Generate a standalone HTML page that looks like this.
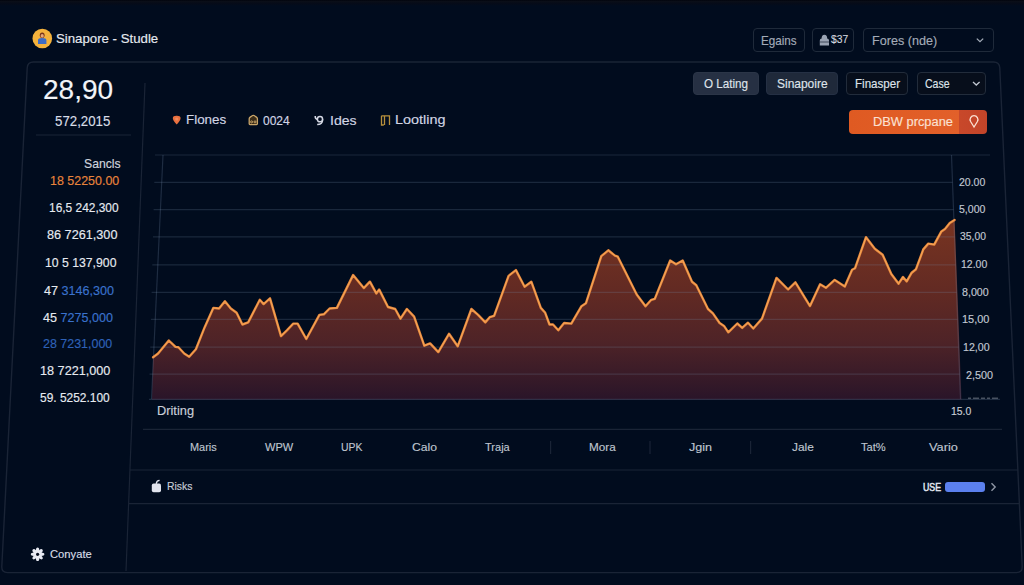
<!DOCTYPE html>
<html><head><meta charset="utf-8"><style>
html,body{margin:0;padding:0;}
body{width:1024px;height:585px;overflow:hidden;background:#010c1e;position:relative;font-family:"Liberation Sans",sans-serif;}
.t{position:absolute;white-space:nowrap;line-height:1;-webkit-text-stroke:0.15px currentColor;}
</style></head><body>
<svg width="1024" height="585" viewBox="0 0 1024 585" style="position:absolute;left:0;top:0"><path d="M33.5,62 L993.5,62 Q999.5,62 999.8,68 L1022.2,566.5 Q1022.5,572.6 1016.5,572.6 L7.5,572.6 Q1.5,572.6 1.8,566.5 L27.2,68 Q27.5,62 33.5,62 Z" fill="#010c1e" stroke="#1a2436" stroke-width="1.4"/><line x1="145" y1="83" x2="126" y2="571" stroke="#1a2436" stroke-width="1.2"/><line x1="36" y1="135" x2="131" y2="135" stroke="#1a2436" stroke-width="1.2"/><defs><linearGradient id="fg" gradientUnits="userSpaceOnUse" x1="0" y1="220" x2="0" y2="399"><stop offset="0" stop-color="#783421"/><stop offset="0.4" stop-color="#622a23"/><stop offset="0.68" stop-color="#4e2327"/><stop offset="1" stop-color="#2a1529"/></linearGradient></defs><path d="M153.1,357.3 L158.1,353.5 L168.8,340.5 L175.5,346.9 L178.4,347.2 L184.2,353.5 L189.2,356.7 L195.9,349.2 L204.6,327.4 L213.3,307.9 L219.1,308.5 L224.9,301.2 L230.8,308.5 L236.6,312.8 L242.4,324.5 L248.2,322.4 L259.8,299.8 L263.6,304.1 L270,298.3 L281,336.1 L286.9,330.3 L293.3,323.6 L297.6,323.6 L306.3,339 L319.4,314.9 L323.8,314.3 L329.6,308.5 L336.9,307.9 L353.1,275.1 L363.8,288.1 L369.9,281.7 L376.3,293.4 L379.2,289.6 L388,307 L395.2,309 L400.5,318.7 L406.9,309 L414.1,316.6 L424.3,345.7 L430.1,343.4 L438.3,352.1 L449,333.8 L457.7,346.3 L471.4,309 L478.1,314.9 L485.3,322.4 L489.7,317.2 L494.1,315.8 L508.6,275.9 L515.9,270.1 L524.6,286.7 L531.3,281.7 L540.8,307.9 L545.2,312.8 L549.5,324.5 L553,324.5 L558.3,330.3 L564.1,323 L571.3,323.6 L581.5,306.2 L585.9,303.3 L601.3,256.2 L608.3,250.3 L614.9,255.6 L617.8,256.7 L636.7,294.5 L645.5,306.2 L651.3,299.8 L654.8,298.9 L670.2,260.5 L676,264.3 L682.7,260.5 L692,281.7 L696.3,285.2 L708,309 L712.9,313.4 L719.6,323 L724,325.9 L728.3,332.3 L737.3,323.5 L742.2,327.9 L748,322.7 L753.3,328.5 L762,318.6 L776.5,277.9 L788.1,289.5 L795.4,282.3 L810,306.1 L820.1,284.3 L825.9,287.8 L834.7,279.9 L844.8,286.6 L852.1,269.8 L855,268.3 L866,237.2 L874.8,248.8 L882.6,254.7 L891.3,274.1 L898.6,283.7 L903,277 L906.7,281.4 L911.7,272.7 L916,269.2 L923.3,249.4 L928.3,243.6 L934.2,244.6 L941.4,231.4 L945,229 L949.8,223 L954.6,219.9 L961.5,399.4 L152,399.4 Z" fill="url(#fg)"/><line x1="155.0" y1="155" x2="990.0" y2="155" stroke="rgba(120,140,170,0.22)" stroke-width="1.2"/><line x1="154.3" y1="182.4" x2="952.5" y2="182.4" stroke="rgba(120,140,170,0.22)" stroke-width="1.2"/><line x1="153.6" y1="209.7" x2="953.5" y2="209.7" stroke="rgba(120,140,170,0.22)" stroke-width="1.2"/><line x1="153.0" y1="236.9" x2="954.5" y2="236.9" stroke="rgba(120,140,170,0.22)" stroke-width="1.2"/><line x1="152.3" y1="264.8" x2="955.6" y2="264.8" stroke="rgba(120,140,170,0.22)" stroke-width="1.2"/><line x1="151.6" y1="292.3" x2="956.6" y2="292.3" stroke="rgba(120,140,170,0.22)" stroke-width="1.2"/><line x1="150.9" y1="319.3" x2="957.6" y2="319.3" stroke="rgba(120,140,170,0.22)" stroke-width="1.2"/><line x1="150.2" y1="347.1" x2="958.6" y2="347.1" stroke="rgba(120,140,170,0.22)" stroke-width="1.2"/><line x1="149.5" y1="374.2" x2="959.6" y2="374.2" stroke="rgba(120,140,170,0.22)" stroke-width="1.2"/><path d="M968,398.2 L1000,398.2" stroke="rgba(200,205,215,0.35)" stroke-width="1.4" stroke-dasharray="3,2,6,2,4,2"/><line x1="149" y1="399.4" x2="1000" y2="399.4" stroke="rgba(120,140,170,0.25)" stroke-width="1.2"/><line x1="163" y1="155" x2="151.5" y2="399" stroke="rgba(120,140,170,0.25)" stroke-width="1.2"/><line x1="951.5" y1="155" x2="960.5" y2="399" stroke="rgba(120,140,170,0.25)" stroke-width="1.2"/><path d="M153.1,357.3 L158.1,353.5 L168.8,340.5 L175.5,346.9 L178.4,347.2 L184.2,353.5 L189.2,356.7 L195.9,349.2 L204.6,327.4 L213.3,307.9 L219.1,308.5 L224.9,301.2 L230.8,308.5 L236.6,312.8 L242.4,324.5 L248.2,322.4 L259.8,299.8 L263.6,304.1 L270,298.3 L281,336.1 L286.9,330.3 L293.3,323.6 L297.6,323.6 L306.3,339 L319.4,314.9 L323.8,314.3 L329.6,308.5 L336.9,307.9 L353.1,275.1 L363.8,288.1 L369.9,281.7 L376.3,293.4 L379.2,289.6 L388,307 L395.2,309 L400.5,318.7 L406.9,309 L414.1,316.6 L424.3,345.7 L430.1,343.4 L438.3,352.1 L449,333.8 L457.7,346.3 L471.4,309 L478.1,314.9 L485.3,322.4 L489.7,317.2 L494.1,315.8 L508.6,275.9 L515.9,270.1 L524.6,286.7 L531.3,281.7 L540.8,307.9 L545.2,312.8 L549.5,324.5 L553,324.5 L558.3,330.3 L564.1,323 L571.3,323.6 L581.5,306.2 L585.9,303.3 L601.3,256.2 L608.3,250.3 L614.9,255.6 L617.8,256.7 L636.7,294.5 L645.5,306.2 L651.3,299.8 L654.8,298.9 L670.2,260.5 L676,264.3 L682.7,260.5 L692,281.7 L696.3,285.2 L708,309 L712.9,313.4 L719.6,323 L724,325.9 L728.3,332.3 L737.3,323.5 L742.2,327.9 L748,322.7 L753.3,328.5 L762,318.6 L776.5,277.9 L788.1,289.5 L795.4,282.3 L810,306.1 L820.1,284.3 L825.9,287.8 L834.7,279.9 L844.8,286.6 L852.1,269.8 L855,268.3 L866,237.2 L874.8,248.8 L882.6,254.7 L891.3,274.1 L898.6,283.7 L903,277 L906.7,281.4 L911.7,272.7 L916,269.2 L923.3,249.4 L928.3,243.6 L934.2,244.6 L941.4,231.4 L945,229 L949.8,223 L954.6,219.9" fill="none" stroke="#e7863c" stroke-width="2.4" stroke-linejoin="round" stroke-linecap="round"/><path d="M153.1,357.3 L158.1,353.5 L168.8,340.5 L175.5,346.9 L178.4,347.2 L184.2,353.5 L189.2,356.7 L195.9,349.2 L204.6,327.4 L213.3,307.9 L219.1,308.5 L224.9,301.2 L230.8,308.5 L236.6,312.8 L242.4,324.5 L248.2,322.4 L259.8,299.8 L263.6,304.1 L270,298.3 L281,336.1 L286.9,330.3 L293.3,323.6 L297.6,323.6 L306.3,339 L319.4,314.9 L323.8,314.3 L329.6,308.5 L336.9,307.9 L353.1,275.1 L363.8,288.1 L369.9,281.7 L376.3,293.4 L379.2,289.6 L388,307 L395.2,309 L400.5,318.7 L406.9,309 L414.1,316.6 L424.3,345.7 L430.1,343.4 L438.3,352.1 L449,333.8 L457.7,346.3 L471.4,309 L478.1,314.9 L485.3,322.4 L489.7,317.2 L494.1,315.8 L508.6,275.9 L515.9,270.1 L524.6,286.7 L531.3,281.7 L540.8,307.9 L545.2,312.8 L549.5,324.5 L553,324.5 L558.3,330.3 L564.1,323 L571.3,323.6 L581.5,306.2 L585.9,303.3 L601.3,256.2 L608.3,250.3 L614.9,255.6 L617.8,256.7 L636.7,294.5 L645.5,306.2 L651.3,299.8 L654.8,298.9 L670.2,260.5 L676,264.3 L682.7,260.5 L692,281.7 L696.3,285.2 L708,309 L712.9,313.4 L719.6,323 L724,325.9 L728.3,332.3 L737.3,323.5 L742.2,327.9 L748,322.7 L753.3,328.5 L762,318.6 L776.5,277.9 L788.1,289.5 L795.4,282.3 L810,306.1 L820.1,284.3 L825.9,287.8 L834.7,279.9 L844.8,286.6 L852.1,269.8 L855,268.3 L866,237.2 L874.8,248.8 L882.6,254.7 L891.3,274.1 L898.6,283.7 L903,277 L906.7,281.4 L911.7,272.7 L916,269.2 L923.3,249.4 L928.3,243.6 L934.2,244.6 L941.4,231.4 L945,229 L949.8,223 L954.6,219.9" fill="none" stroke="#f5aa5c" stroke-width="0.9" stroke-linejoin="round" stroke-linecap="round"/><line x1="143" y1="429.3" x2="1002" y2="429.3" stroke="#1a2436" stroke-width="1.2"/><line x1="130" y1="470" x2="1018" y2="470" stroke="#1a2436" stroke-width="1.2"/><line x1="128.7" y1="503.6" x2="1020" y2="503.6" stroke="#1a2436" stroke-width="1.2"/><line x1="550.6" y1="441" x2="550.6" y2="454" stroke="#1a2436" stroke-width="1.2"/><line x1="650" y1="441" x2="650" y2="454" stroke="#1a2436" stroke-width="1.2"/><line x1="750.6" y1="441" x2="750.6" y2="454" stroke="#1a2436" stroke-width="1.2"/></svg>
<div style="position:absolute;left:0;top:0;width:1024px;height:6px;background:linear-gradient(180deg,#02040d 0%,#0a0e18 25%,#060b18 55%,rgba(1,12,30,0) 100%)"></div><div style="position:absolute;left:752.5px;top:27.5px;width:52.5px;height:24.9px;background:transparent;border:1.2px solid #1f2a3a;border-radius:4px;box-sizing:border-box"></div><div style="position:absolute;left:812.2px;top:27.5px;width:41.799999999999955px;height:24.9px;background:transparent;border:1.2px solid #1f2a3a;border-radius:4px;box-sizing:border-box"></div><div style="position:absolute;left:862.5px;top:27.5px;width:131.5px;height:24.9px;background:transparent;border:1.2px solid #1f2a3a;border-radius:4px;box-sizing:border-box"></div><div style="position:absolute;left:693.4px;top:72.4px;width:65.20000000000005px;height:22.39999999999999px;background:#263043;border:1.2px solid #2b3547;border-radius:4px;box-sizing:border-box"></div><div style="position:absolute;left:765.5px;top:72.4px;width:72.0px;height:22.39999999999999px;background:#1f293a;border:1.2px solid #253044;border-radius:4px;box-sizing:border-box"></div><div style="position:absolute;left:845.9px;top:72.4px;width:62.5px;height:22.39999999999999px;background:#070e1b;border:1.2px solid #222c3b;border-radius:4px;box-sizing:border-box"></div><div style="position:absolute;left:916.8px;top:72.4px;width:69.70000000000005px;height:22.39999999999999px;background:#070e1b;border:1.2px solid #222c3b;border-radius:4px;box-sizing:border-box"></div><div style="position:absolute;left:849px;top:110.3px;width:138px;height:23.8px;border-radius:4px;background:linear-gradient(90deg,#df5a22 0%,#e2602a 80%,#c8482a 80%,#c24429 100%)"></div><div style="position:absolute;left:945px;top:482.3px;width:39.5px;height:9.5px;border-radius:3px;background:#5b80ee"></div>
<svg width="1024" height="585" viewBox="0 0 1024 585" style="position:absolute;left:0;top:0">
<circle cx="42.3" cy="38.5" r="9.8" fill="#f4b23c"/>
<path d="M38,44 L38,40 Q38,38 42.2,38 Q46.4,38 46.4,40 L46.4,44 Z" fill="#3d6cc6"/>
<ellipse cx="42.2" cy="35.3" rx="2.4" ry="2.8" fill="#7a3418"/>
<ellipse cx="42.2" cy="35.9" rx="1.6" ry="1.8" fill="#e8a878"/>
<path d="M176.7,124.4 C174,121.6 172.7,119.8 172.8,118 Q173,115.6 176.7,115.7 Q180.4,115.6 180.6,118 C180.7,119.8 179.4,121.6 176.7,124.4 Z" fill="#e9703f"/><circle cx="176.7" cy="119" r="1.6" fill="#f08a5c"/>
<path d="M249.2,123.8 L249.2,118.8 Q249.2,117.8 250.2,117.1 L252.6,115.5 Q253.3,115.1 254,115.5 L256.4,117.1 Q257.4,117.8 257.4,118.8 L257.4,123.8 Q257.4,124.6 256.6,124.6 L250,124.6 Q249.2,124.6 249.2,123.8 Z" fill="#3a2c18" stroke="#c9a56a" stroke-width="1.3"/><circle cx="251.6" cy="121.9" r="1" fill="none" stroke="#c9a56a" stroke-width="1"/><circle cx="255" cy="121.9" r="1" fill="none" stroke="#c9a56a" stroke-width="1"/>
<circle cx="320" cy="119.2" r="2.6" fill="none" stroke="#d4d8e4" stroke-width="1.5"/><path d="M322.6,119.4 Q322.8,124.6 317.2,124.6 M317.4,119.6 Q315,118.6 315.2,116" fill="none" stroke="#d4d8e4" stroke-width="1.5"/>
<path d="M381.5,115.8 L389.5,115.8 L389.5,125 M383.8,125 L381.5,125 L381.5,115.8 M384.5,116 L384.5,125" fill="none" stroke="#b8903c" stroke-width="1.3"/>
<path d="M819.8,45.5 L819.8,40.6 Q819.8,38.6 821.8,38.6 L827,38.6 Q829,38.6 829,40.6 L829,45.5 Z M821.6,38.6 Q821.6,34.8 824.4,34.8 Q827.2,34.8 827.2,38.6 Z" fill="#9aa3b3"/><path d="M820,42 L829,42" stroke="#2a3344" stroke-width="0.8"/>
<path d="M976.8,38.6 L980,41.6 L983.2,38.6" fill="none" stroke="#a3abb8" stroke-width="1.3"/>
<path d="M973,82 L976.3,85 L979.6,82" fill="none" stroke="#c0c6d0" stroke-width="1.3"/>
<circle cx="704.4" cy="83.6" r="0" fill="none"/>
<path d="M974,127 L970.6,121.5 A3.9,3.9 0 1 1 977.4,121.5 Z" fill="none" stroke="#fbe0d2" stroke-width="1.3"/>
<rect x="151.8" y="483.6" width="9.2" height="8.6" rx="1.8" fill="#e2e5ee"/>
<path d="M156.2,483.8 Q156.6,480.6 159.6,480.4" fill="none" stroke="#e2e5ee" stroke-width="1.3"/>
<path d="M991.5,483.2 L995.2,487 L991.5,490.8" fill="none" stroke="#8f97a5" stroke-width="1.4"/>
<g transform="translate(37.6,554.3)" fill="#e8eaf2">
<ellipse rx="1.7" ry="3.2" transform="rotate(0) translate(0,-3.6)"/>
<ellipse rx="1.7" ry="3.2" transform="rotate(45) translate(0,-3.6)"/>
<ellipse rx="1.7" ry="3.2" transform="rotate(90) translate(0,-3.6)"/>
<ellipse rx="1.7" ry="3.2" transform="rotate(135) translate(0,-3.6)"/>
<ellipse rx="1.7" ry="3.2" transform="rotate(180) translate(0,-3.6)"/>
<ellipse rx="1.7" ry="3.2" transform="rotate(225) translate(0,-3.6)"/>
<ellipse rx="1.7" ry="3.2" transform="rotate(270) translate(0,-3.6)"/>
<ellipse rx="1.7" ry="3.2" transform="rotate(315) translate(0,-3.6)"/>
<circle r="1.6" fill="#0a1020"/>
</g>
</svg>
<div class="t" style="left:56.2px;top:32.4px;font-size:13.2px;color:#e6eaf0;transform:scaleX(1.003);transform-origin:0 0;">Sinapore - Studle</div><div class="t" style="left:43px;top:75.6px;font-size:27.5px;color:#f2f4f8;transform:scaleX(1.020);transform-origin:0 0;">28,90</div><div class="t" style="left:55.4px;top:113.6px;font-size:14.2px;color:#d8dde6;transform:scaleX(0.935);transform-origin:0 0;">572,2015</div><div class="t" style="left:83.5px;top:156.9px;font-size:13px;color:#d0d5de;transform:scaleX(0.939);transform-origin:0 0;">Sancls</div><div class="t" style="left:49.7px;top:174.7px;font-size:12.8px;color:#e6eaf0;transform:scaleX(0.973);transform-origin:0 0;"><span style="color:#e8843c">18 52250.00</span></div><div class="t" style="left:48.5px;top:201.5px;font-size:12.8px;color:#e6eaf0;transform:scaleX(0.932);transform-origin:0 0;">16,5 242,300</div><div class="t" style="left:46.8px;top:229.4px;font-size:12.8px;color:#e6eaf0;transform:scaleX(0.990);transform-origin:0 0;">86 7261,300</div><div class="t" style="left:45px;top:256.9px;font-size:12.8px;color:#e6eaf0;transform:scaleX(0.956);transform-origin:0 0;">10 5 137,900</div><div class="t" style="left:43.7px;top:284.7px;font-size:12.8px;color:#e6eaf0;transform:scaleX(0.985);transform-origin:0 0;">47 <span style="color:#3a72cc">3146,300</span></div><div class="t" style="left:43.1px;top:311.5px;font-size:12.8px;color:#e6eaf0;transform:scaleX(0.982);transform-origin:0 0;">45 <span style="color:#3a72cc">7275,000</span></div><div class="t" style="left:43.1px;top:338.0px;font-size:12.8px;color:#e6eaf0;transform:scaleX(0.973);transform-origin:0 0;"><span style="color:#2f62b8">28 7231,000</span></div><div class="t" style="left:40.4px;top:364.8px;font-size:12.8px;color:#e6eaf0;transform:scaleX(0.989);transform-origin:0 0;">18 7221,000</div><div class="t" style="left:40.4px;top:391.6px;font-size:12.8px;color:#e6eaf0;transform:scaleX(0.933);transform-origin:0 0;">59. 5252.100</div><div class="t" style="left:185.8px;top:113.1px;font-size:13.5px;color:#d2d6e4;transform:scaleX(0.992);transform-origin:0 0;">Flones</div><div class="t" style="left:263.2px;top:113.5px;font-size:13px;color:#d2d6e4;transform:scaleX(0.924);transform-origin:0 0;">0024</div><div class="t" style="left:329.8px;top:113.5px;font-size:13px;color:#d2d6e4;transform:scaleX(1.082);transform-origin:0 0;">Ides</div><div class="t" style="left:395px;top:113.1px;font-size:13.5px;color:#d2d6e4;transform:scaleX(1.069);transform-origin:0 0;">Lootling</div><div class="t" style="left:761.2px;top:33.9px;font-size:13px;color:#a3abb8;transform:scaleX(0.898);transform-origin:0 0;">Egains</div><div class="t" style="left:830.8px;top:34.4px;font-size:11.5px;color:#d0d5de;transform:scaleX(0.896);transform-origin:0 0;">$37</div><div class="t" style="left:872px;top:33.9px;font-size:13px;color:#a3abb8;transform:scaleX(0.970);transform-origin:0 0;">Fores (nde)</div><div class="t" style="left:704.4px;top:77.2px;font-size:13px;color:#dfe3ea;transform:scaleX(0.897);transform-origin:0 0;">O Lating</div><div class="t" style="left:776.8px;top:77.2px;font-size:13px;color:#dfe3ea;transform:scaleX(0.921);transform-origin:0 0;">Sinapoire</div><div class="t" style="left:854.8px;top:77.2px;font-size:13px;color:#dfe3ea;transform:scaleX(0.890);transform-origin:0 0;">Finasper</div><div class="t" style="left:925.4px;top:77.2px;font-size:13px;color:#dfe3ea;transform:scaleX(0.811);transform-origin:0 0;">Case</div><div class="t" style="left:872.7px;top:115.6px;font-size:12.5px;color:#fbe0d2;transform:scaleX(1.027);transform-origin:0 0;">DBW prcpane</div><div class="t" style="left:958.5px;top:176.6px;font-size:10.5px;color:#c2c8d2;transform:scaleX(1.001);transform-origin:0 0;">20.00</div><div class="t" style="left:959.2px;top:203.5px;font-size:10.5px;color:#c2c8d2;transform:scaleX(1.005);transform-origin:0 0;">5,000</div><div class="t" style="left:960.4px;top:231.2px;font-size:10.5px;color:#c2c8d2;transform:scaleX(0.985);transform-origin:0 0;">35,00</div><div class="t" style="left:961.4px;top:259.2px;font-size:10.5px;color:#c2c8d2;transform:scaleX(1.001);transform-origin:0 0;">12.00</div><div class="t" style="left:962px;top:286.8px;font-size:10.5px;color:#c2c8d2;transform:scaleX(1.017);transform-origin:0 0;">8,000</div><div class="t" style="left:962px;top:314.3px;font-size:10.5px;color:#c2c8d2;transform:scaleX(1.044);transform-origin:0 0;">15,00</div><div class="t" style="left:962.8px;top:342.0px;font-size:10.5px;color:#c2c8d2;transform:scaleX(1.013);transform-origin:0 0;">12,00</div><div class="t" style="left:966.2px;top:369.7px;font-size:10.5px;color:#c2c8d2;transform:scaleX(1.028);transform-origin:0 0;">2,500</div><div class="t" style="left:951.3px;top:405.7px;font-size:10.5px;color:#c9ced8;transform:scaleX(0.993);transform-origin:0 0;">15.0</div><div class="t" style="left:157px;top:405.0px;font-size:12.4px;color:#c9ced8;transform:scaleX(1.034);transform-origin:0 0;">Driting</div><div class="t" style="left:190.4px;top:441.6px;font-size:11.8px;color:#bfc5cf;transform:scaleX(0.927);transform-origin:0 0;">Maris</div><div class="t" style="left:264.5px;top:441.6px;font-size:11.8px;color:#bfc5cf;transform:scaleX(0.937);transform-origin:0 0;">WPW</div><div class="t" style="left:340.7px;top:441.6px;font-size:11.8px;color:#bfc5cf;transform:scaleX(0.881);transform-origin:0 0;">UPK</div><div class="t" style="left:412px;top:441.6px;font-size:11.8px;color:#bfc5cf;transform:scaleX(1.032);transform-origin:0 0;">Calo</div><div class="t" style="left:485px;top:441.6px;font-size:11.8px;color:#bfc5cf;transform:scaleX(0.935);transform-origin:0 0;">Traja</div><div class="t" style="left:589px;top:441.6px;font-size:11.8px;color:#bfc5cf;transform:scaleX(0.993);transform-origin:0 0;">Mora</div><div class="t" style="left:689px;top:441.6px;font-size:11.8px;color:#bfc5cf;transform:scaleX(1.065);transform-origin:0 0;">Jgin</div><div class="t" style="left:792.4px;top:441.6px;font-size:11.8px;color:#bfc5cf;transform:scaleX(1.012);transform-origin:0 0;">Jale</div><div class="t" style="left:860.8px;top:441.6px;font-size:11.8px;color:#bfc5cf;transform:scaleX(0.939);transform-origin:0 0;">Tat%</div><div class="t" style="left:928.5px;top:441.6px;font-size:11.8px;color:#bfc5cf;transform:scaleX(1.083);transform-origin:0 0;">Vario</div><div class="t" style="left:167px;top:481.4px;font-size:11.5px;color:#c9ced8;transform:scaleX(0.903);transform-origin:0 0;">Risks</div><div class="t" style="left:922.7px;top:482.3px;font-size:10.5px;color:#e2e6ee;-webkit-text-stroke:0.5px currentColor;transform:scaleX(0.840);transform-origin:0 0;">USE</div><div class="t" style="left:50px;top:548.8px;font-size:11.5px;color:#d8dde6;transform:scaleX(0.975);transform-origin:0 0;">Conyate</div>
</body></html>
